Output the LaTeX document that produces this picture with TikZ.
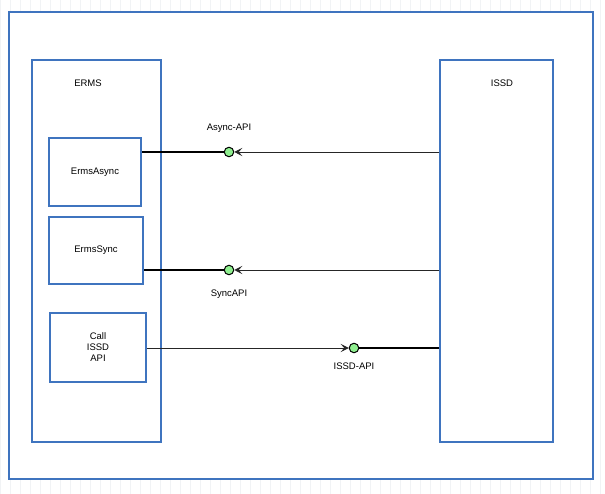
\documentclass[tikz,border=0pt]{standalone}
\usepackage{fontspec}
\setmainfont{Liberation Sans}
\usepackage{xcolor}
\usetikzlibrary{arrows.meta,positioning,calc}
\definecolor{boxblue}{HTML}{3F74BF}
\definecolor{portgreen}{HTML}{8FEF8F}
\definecolor{gridgray}{HTML}{F1F3F5}

\begin{document}
\begin{tikzpicture}[x=1pt,y=-1pt,
  font=\fontsize{9.5}{11}\selectfont,
  frame/.style={draw=boxblue,line width=2.3pt,fill=white},
  comp/.style={draw=boxblue,line width=2.3pt,fill=white,align=center,inner sep=0pt},
  port/.style={circle,draw=black,line width=1pt,fill=portgreen,minimum size=9.5pt,inner sep=0pt},
  wire/.style={draw=black,line width=1.5pt},
  req/.style={-{Stealth[length=8pt,width=8pt,inset=3.5pt]},draw=black!85,line width=0.9pt}
]
\useasboundingbox (0,0) rectangle (605,494);
% faint canvas grid
\draw[gridgray,step=10] (0,0) grid (605,494);
\node[frame,minimum width=584,minimum height=467] (outer) at (301,245.5) {};
\node[frame,minimum width=129,minimum height=382] (erms) at (96.5,251) {};
\node[frame,minimum width=113,minimum height=382] (issd) at (496.5,251) {};
\node (ermslbl) at (88,83) {ERMS};
\node (issdlbl) at (502,83) {ISSD};
\node[comp,minimum width=92,minimum height=68] (async) at (95,172) {ErmsAsync};
\node[comp,minimum width=94,minimum height=67] (sync) at (96,250.5) {ErmsSync};
\node[comp,minimum width=96,minimum height=69] (call) at (98,347.5) {Call\\ISSD\\API};
\node[port] (aapi) at (229,152) {};
\node[port] (sapi) at (229,270) {};
\node[port] (iapi) at (354,348) {};
\node[above=11pt of aapi] (aapilbl) {Async-API};
\node[below=11pt of sapi] (sapilbl) {SyncAPI};
\node[below=6pt of iapi] (iapilbl) {ISSD-API};
% wires
\draw[wire] (async.east |- aapi) -- (aapi);
\draw[req] (issd.west |- aapi) -- (aapi);
\draw[wire] (sync.east |- sapi) -- (sapi);
\draw[req] (issd.west |- sapi) -- (sapi);
\draw[req] (call.east |- iapi) -- (iapi);
\draw[wire] (iapi) -- (issd.west |- iapi);
\end{tikzpicture}
\end{document}
